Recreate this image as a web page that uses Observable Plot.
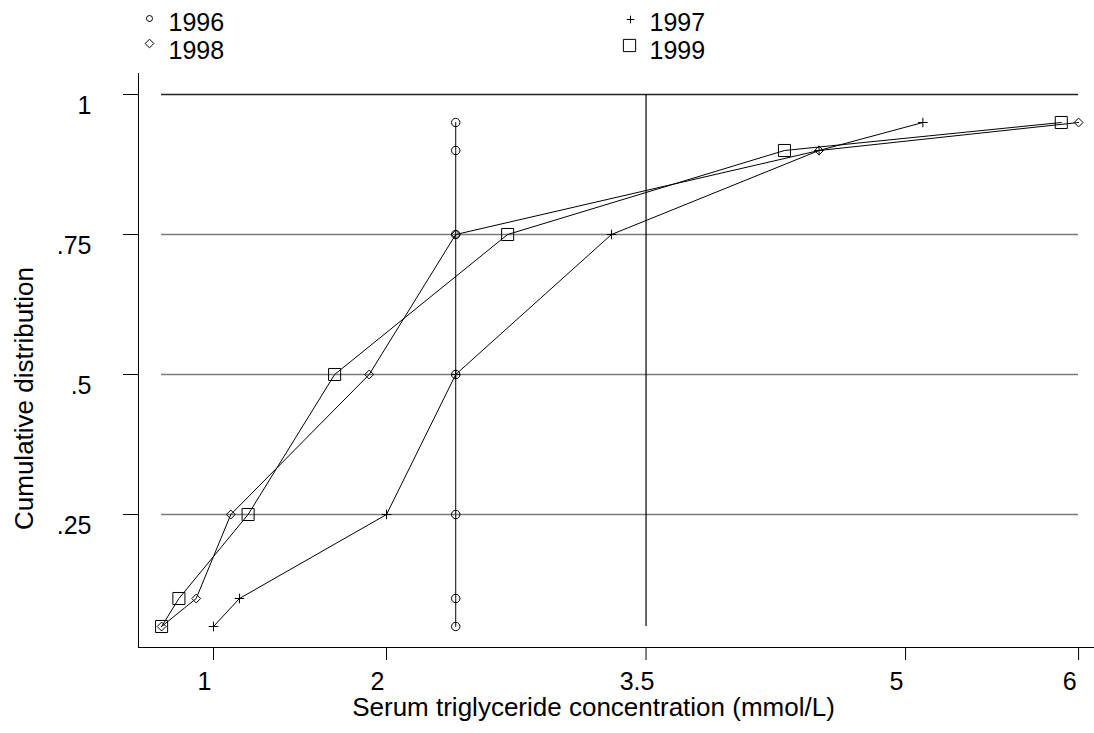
<!DOCTYPE html>
<html>
<head>
<meta charset="utf-8">
<script src="https://cdn.jsdelivr.net/npm/d3@7"></script>
<script src="https://cdn.jsdelivr.net/npm/@observablehq/plot@0.6"></script>
<style>
  html, body { margin: 0; padding: 0; background: white; }
</style>
</head>
<body>
<div id="chart"></div>
<script>
// ---- data ----
const years = ["1996", "1997", "1998", "1999"];
const symbols = ["circle", "plus", "diamond2", "square"];
const cumY = [0.05, 0.1, 0.25, 0.5, 0.75, 0.9, 0.95];
const x1996 = [2.4, 2.4, 2.4, 2.4, 2.4, 2.4, 2.4];
const x1997 = [1.0, 1.15, 2.0, 2.4, 3.3, 4.5, 5.1];
const x1998 = [0.7, 0.9, 1.1, 1.9, 2.4, 4.5, 6.0];
const x1999 = [0.7, 0.8, 1.2, 1.7, 2.7, 4.3, 5.9];
const xTicks = [1, 2, 3.5, 5, 6];
const xTickLabels = ["1", "2", "3.5", "5", "6"];
const yTicks = [0.25, 0.5, 0.75, 1];
const yTickLabels = [".25", ".5", ".75", "1"];
const refX = 3.5;
const xTitle = "Serum triglyceride concentration (mmol/L)";
const yTitle = "Cumulative distribution";

// ---- build table ----
const seriesX = [x1996, x1997, x1998, x1999];
const rows = [];
years.forEach((yr, i) => seriesX[i].forEach((x, j) => rows.push({year: yr, x, y: cumY[j]})));
const xMin = d3.min(rows, d => d.x), xMax = d3.max(rows, d => d.x);
const yMin = d3.min(rows, d => d.y), yMax = d3.max(yTicks);

const dotR = {circle: 4.2, plus: 3.2, diamond2: 4, square: 6.8};
const legR = {circle: 3, plus: 2.6, diamond2: 3.9, square: 6.9};
const legPos = [ // [symbol dx, symbol dy, text dx, text dy]
  [11, -55, 30, -51],
  [492, -54, 511, -51],
  [11, -30, 30, -23],
  [491, -28, 511, -23]
];

const marks = [
  // grid
  Plot.ruleY(yTicks, {y: d => d, x1: xMin, x2: xMax,
    stroke: d => d === yMax ? "#222" : "#7a7a7a", strokeWidth: 1.6}),
  // reference line
  Plot.ruleX([refX], {x: d => d, y1: yMin, y2: yMax, stroke: "black", strokeWidth: 1.2}),
  // series lines
  Plot.line(rows, {x: "x", y: "y", z: "year", stroke: "black", strokeWidth: 1})
];
years.forEach((yr, i) => {
  marks.push(Plot.dot(rows.filter(d => d.year === yr), {
    x: "x", y: "y", symbol: symbols[i], r: dotR[symbols[i]],
    fill: "none", stroke: "black", strokeWidth: 1
  }));
  // legend
  const [sdx, sdy, tdx, tdy] = legPos[i];
  marks.push(Plot.dot([yr], {frameAnchor: "top-left", dx: sdx, dy: sdy, symbol: symbols[i],
    r: legR[symbols[i]], fill: "none", stroke: "black", strokeWidth: 1}));
  marks.push(Plot.text([yr], {frameAnchor: "top-left", dx: tdx, dy: tdy, text: d => d,
    textAnchor: "start", lineAnchor: "middle", fontSize: 25, fill: "black"}));
});
// tick labels
marks.push(Plot.text(xTicks, {x: d => d, text: (d, i) => xTickLabels[i], frameAnchor: "bottom",
  lineAnchor: "middle", textAnchor: "middle", dy: 34, dx: -9, fontSize: 25, fill: "black"}));
marks.push(Plot.text(yTicks, {y: d => d, text: (d, i) => yTickLabels[i], frameAnchor: "left",
  lineAnchor: "middle", textAnchor: "end", dx: -47, dy: 11, fontSize: 25, fill: "black"}));
// axis titles
marks.push(Plot.text([xTitle], {frameAnchor: "bottom", text: d => d, dy: 60, dx: -23,
  lineAnchor: "middle", textAnchor: "middle", fontSize: 26, fill: "black"}));
marks.push(Plot.text([yTitle], {frameAnchor: "left", text: d => d, rotate: -90, dx: -114, dy: 38,
  lineAnchor: "middle", textAnchor: "middle", fontSize: 26, fill: "black"}));

const chart = Plot.plot({
  width: 1094,
  height: 733,
  marginLeft: 138,
  marginRight: 0,
  marginTop: 73,
  marginBottom: 86,
  style: {fontFamily: "'Liberation Sans', Arial, sans-serif", fontSize: "25px", background: "white", color: "black"},
  x: {domain: [0.5665, 6.092], ticks: xTicks, tickSize: 13, tickFormat: () => "", line: true, label: null},
  y: {domain: [0.0125, 1.0375], ticks: yTicks, tickSize: 15, tickFormat: () => "", line: true, label: null},
  marks
});
document.getElementById("chart").appendChild(chart);
</script>
</body>
</html>
